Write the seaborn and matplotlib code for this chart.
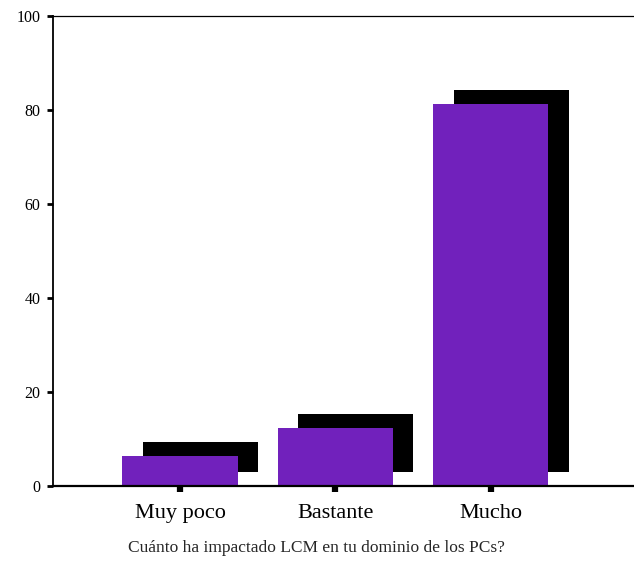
import numpy as np
import pandas as pd
import matplotlib
matplotlib.use("Agg")
import matplotlib.pyplot as plt
import seaborn as sns

# Valores (porcentaje)
categorias = ["Muy poco", "Bastante", "Mucho"]
porcentajes = [6.3, 12.4, 81.3]
y_ticks = [0, 20, 40, 60, 80, 100]
titulo = "Cuánto ha impactado LCM en tu dominio de los PCs?"

MORADO = "#7121bc"
SOMBRA_DX = 0.13   # desplazamiento de la sombra (unidades de categoria)
SOMBRA_DY = 3      # desplazamiento vertical de la sombra

sns.set_theme(style="white")
plt.rcParams["font.family"] = ["Liberation Serif", "DejaVu Serif"]

df = pd.DataFrame({"categoria": categorias, "porcentaje": porcentajes})

fig = plt.figure(figsize=(6.34, 5.69), dpi=100)
ax = fig.add_axes([0.0836, 0.1459, 0.9164, 0.826])

# Sombra negra detras de cada barra
pos = np.arange(len(categorias))
ax.bar(pos + SOMBRA_DX, df["porcentaje"], bottom=SOMBRA_DY, width=0.74,
       color="black", zorder=1, linewidth=0)

sns.barplot(data=df, x="categoria", y="porcentaje", color=MORADO,
            saturation=1, width=0.74, ax=ax, zorder=2, linewidth=0)

ax.set_xlim(-0.817, 2.92)
ax.set_ylim(0, 100)
ax.set_yticks(y_ticks)
ax.set_yticklabels([str(v) for v in y_ticks], fontsize=11.5)
ax.set_xticks(pos)
ax.set_xticklabels(categorias, fontsize=16)

ax.set_ylabel("")
ax.set_xlabel(titulo, fontsize=12.5)
ax.xaxis.set_label_coords(0.454, -0.115)

ax.spines["right"].set_visible(False)
ax.spines["top"].set_linewidth(0.9)
ax.spines["left"].set_linewidth(1.3)
ax.spines["bottom"].set_linewidth(1.6)
for s in ["top", "left", "bottom"]:
    ax.spines[s].set_color("black")

ax.tick_params(axis="y", direction="out", length=4, width=2, pad=5,
               colors="black", left=True)
ax.tick_params(axis="x", direction="out", length=4, width=4.5, pad=9,
               colors="black", bottom=True)

fig.savefig("out.png", dpi=100)
